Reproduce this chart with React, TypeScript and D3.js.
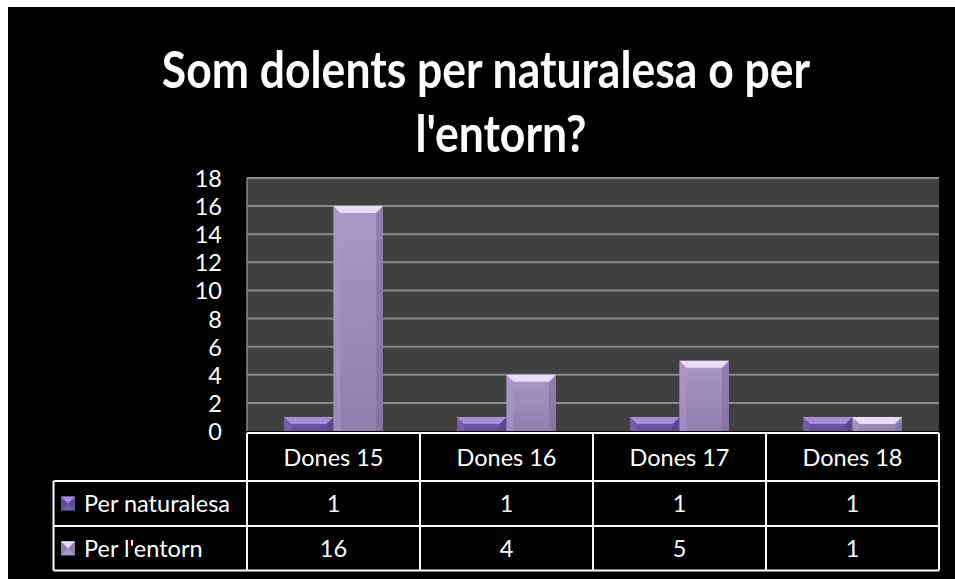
import React from "react";
import * as d3 from "d3";

const title = ["Som dolents per naturalesa o per", "l'entorn?"];
const categories = ["Dones 15", "Dones 16", "Dones 17", "Dones 18"];
const seriesNames = ["Per naturalesa", "Per l'entorn"];
const perNaturalesa = [1, 1, 1, 1];
const perEntorn = [16, 4, 5, 1];
const yTicks = [0, 2, 4, 6, 8, 10, 12, 14, 16, 18];

const W = 955;
const H = 579;
const FONT = "Lato, 'Open Sans', sans-serif";

const palette = [
  { top: "#a68ddc", left: "#7d66b2", right: "#54407f", bodyA: "#735aa8", bodyB: "#634c94" },
  { top: "#e9ddff", left: "#a698c8", right: "#7d6f9c", bodyA: "#a899c9", bodyB: "#8e7fae" },
];

export default function App() {
  const plotL = 247, plotR = 939, plotT = 178, plotB = 431;
  const tableTop = 433, hdrB = 481, row2B = 526, row3B = 570.5, tableL = 53.5;
  const fs = 23.5;
  const titleX = [486, 501];

  const x0 = d3.scaleBand<string>().domain(categories).range([plotL, plotR]).paddingInner(0).paddingOuter(0);
  const x1 = d3.scaleBand<string>().domain(seriesNames).range([0, x0.bandwidth()]).paddingInner(0).paddingOuter(0.75);
  const y = d3.scaleLinear().domain([0, 18]).range([plotB, plotT]);

  const series = [perNaturalesa, perEntorn];

  const bars: JSX.Element[] = [];
  categories.forEach((c, ci) => {
    seriesNames.forEach((s, si) => {
      const v = series[si][ci];
      const x = (x0(c) as number) + (x1(s) as number);
      const w = x1.bandwidth();
      const top = y(v);
      const bot = y(0);
      const h = bot - top;
      const b = Math.min(7, h / 2, w / 2);
      const p = palette[si];
      bars.push(
        <g key={`${c}-${s}`}>
          <rect x={x} y={top} width={w} height={h} fill={`url(#body${si})`} />
          <polygon points={`${x},${top} ${x + b},${top + b} ${x + b},${bot} ${x},${bot}`} fill={p.left} opacity={0.6} />
          <polygon points={`${x + w},${top} ${x + w - b},${top + b} ${x + w - b},${bot} ${x + w},${bot}`} fill={p.right} opacity={0.6} />
          <polygon points={`${x},${top} ${x + w},${top} ${x + w - b},${top + b} ${x + b},${top + b}`} fill={p.top} />
        </g>
      );
    });
  });

  const colEdges = categories.map((c) => x0(c) as number).concat([plotR]);

  return (
    <svg width={W} height={H} style={{ position: "absolute", left: 0, top: 0 }}>
      <defs>
        {palette.map((p, i) => (
          <linearGradient key={i} id={`body${i}`} x1="0" y1="0" x2="0" y2="1">
            <stop offset="0" stopColor={p.bodyA} />
            <stop offset="1" stopColor={p.bodyB} />
          </linearGradient>
        ))}
      </defs>
      <rect x={0} y={0} width={W} height={H} fill="#ffffff" />
      <rect x={8} y={7} width={W - 8} height={H - 7} fill="#000000" />
      {title.map((t, i) => (
        <text
          key={i}
          transform={`translate(${titleX[i]},${88 + i * 64}) scale(1,1.18)`}
          textAnchor="middle"
          fill="#ffffff"
          fontFamily={FONT}
          fontWeight="bold"
          fontSize={44.5}
        >
          {t}
        </text>
      ))}
      <rect x={plotL} y={plotT} width={plotR - plotL} height={plotB - plotT} fill="#404040" />
      {yTicks.map((t) => (
        <g key={t}>
          {t > 0 && <line x1={plotL} x2={plotR} y1={y(t)} y2={y(t)} stroke="#8a8a8a" strokeWidth={2} />}
          <text x={222} y={y(t) + 9} textAnchor="end" fill="#ffffff" fontFamily={FONT} fontSize={fs}>
            {t}
          </text>
        </g>
      ))}
      <line x1={plotL} x2={plotL} y1={plotT} y2={plotB} stroke="#8a8a8a" strokeWidth={1.5} />
      {bars}
      {/* data table */}
      <g stroke="#ffffff" strokeWidth={2} fill="none">
        <line x1={plotL} x2={plotR} y1={tableTop} y2={tableTop} />
        <line x1={tableL} x2={plotR} y1={hdrB} y2={hdrB} />
        <line x1={tableL} x2={plotR} y1={row2B} y2={row2B} />
        <line x1={tableL} x2={plotR} y1={row3B} y2={row3B} />
        <line x1={tableL} x2={tableL} y1={hdrB} y2={row3B} />
        {colEdges.map((e, i) => (
          <line key={i} x1={e} x2={e} y1={tableTop} y2={row3B} />
        ))}
      </g>
      {categories.map((c, ci) => {
        const cx = (x0(c) as number) + x0.bandwidth() / 2;
        return (
          <g key={c} fill="#ffffff" fontFamily={FONT} fontSize={fs} textAnchor="middle">
            <text x={cx} y={(tableTop + hdrB) / 2 + 8.5}>{c}</text>
            <text x={cx} y={(hdrB + row2B) / 2 + 8.5}>{perNaturalesa[ci]}</text>
            <text x={cx} y={(row2B + row3B) / 2 + 8.5}>{perEntorn[ci]}</text>
          </g>
        );
      })}
      {seriesNames.map((s, si) => {
        const cy = si === 0 ? (hdrB + row2B) / 2 : (row2B + row3B) / 2;
        const p = palette[si];
        const mx = 61, my = cy - 7, ms = 14;
        return (
          <g key={s}>
            <rect x={mx} y={my} width={ms} height={ms} fill={p.bodyB} />
            <polygon points={`${mx},${my} ${mx + ms},${my} ${mx + ms / 2},${my + ms / 2}`} fill={p.top} />
            <polygon points={`${mx},${my + ms} ${mx + ms},${my + ms} ${mx + ms / 2},${my + ms / 2}`} fill={p.bodyA} />
            <text x={84} y={cy + 8.5} fill="#ffffff" fontFamily={FONT} fontSize={fs}>
              {s}
            </text>
          </g>
        );
      })}
    </svg>
  );
}
